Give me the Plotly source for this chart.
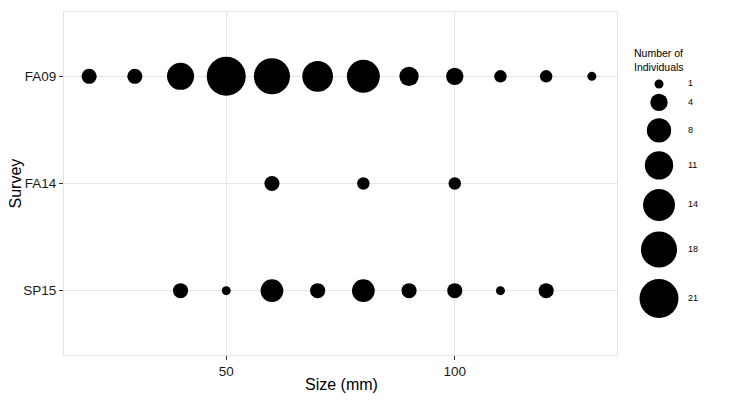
import numpy as np
import plotly.graph_objects as go

# ---- data ----
surveys = ["FA09", "FA14", "SP15"]
fa09_size = [20, 30, 40, 50, 60, 70, 80, 90, 100, 110, 120, 130]
fa09_count = [3, 3, 10, 21, 18, 13, 15, 5, 4, 2, 2, 1]
fa14_size = [60, 80, 100]
fa14_count = [3, 2, 2]
sp15_size = [40, 50, 60, 70, 80, 90, 100, 110, 120]
sp15_count = [3, 1, 7, 3, 7, 3, 3, 1, 3]
legend_breaks = [1, 4, 8, 11, 14, 18, 21]
x_ticks = [50, 100]


def diam(v):
    return 0.6 + 8.37 * np.sqrt(np.asarray(v, dtype=float))


fig = go.Figure()
for name, xs, cs in [("FA09", fa09_size, fa09_count),
                     ("FA14", fa14_size, fa14_count),
                     ("SP15", sp15_size, sp15_count)]:
    fig.add_trace(go.Scatter(
        x=xs, y=[name] * len(xs), mode="markers",
        marker=dict(size=diam(cs), color="black", opacity=1, line=dict(width=0)),
        showlegend=False, hoverinfo="x+y", xaxis="x", yaxis="y"))

# ---- layout geometry (page pixels; the page body has an 8px margin) ----
BODY = 8
PAGE_W, PAGE_H = 730, 400
W, H = PAGE_W - BODY, PAGE_H - BODY
px_l, px_r, px_t, px_b = 64, 617, 12, 355

# ---- custom size legend (pixel-coordinate overlay axes) ----
d = diam(legend_breaks)
h = 1.25 * d + 2
centers = [84.0]
for i in range(1, len(h)):
    centers.append(centers[-1] + (h[i - 1] + h[i]) / 2)

fig.add_trace(go.Scatter(
    x=[659] * len(legend_breaks), y=centers, mode="markers",
    marker=dict(size=d, color="black", opacity=1, line=dict(width=0)),
    showlegend=False, hoverinfo="skip", xaxis="x2", yaxis="y2"))
fig.add_trace(go.Scatter(
    x=[688] * len(legend_breaks), y=centers, mode="text",
    text=[str(b) for b in legend_breaks], textposition="middle right",
    textfont=dict(size=9, color="black", family="Liberation Sans, Arial"),
    showlegend=False, hoverinfo="skip", xaxis="x2", yaxis="y2"))

fig.add_annotation(x=632, y=45, xref="x2", yref="y2", text="Number of<br>Individuals",
                   showarrow=False, xanchor="left", yanchor="top", align="left",
                   font=dict(size=10.5, color="black", family="Liberation Sans, Arial"))

plot_w = PAGE_W - px_l
plot_h = px_b - px_t
main_frac = (px_r - px_l) / plot_w


def paper_x(px):
    return (px - px_l) / plot_w


def paper_y(py):
    return (px_b - py) / plot_h


fig.add_annotation(x=paper_x(341), y=paper_y(384), xref="paper", yref="paper",
                   text="Size (mm)", showarrow=False, xanchor="center", yanchor="middle",
                   font=dict(size=16, color="black", family="Liberation Sans, Arial"))
fig.add_annotation(x=paper_x(14.5), y=paper_y(184), xref="paper", yref="paper",
                   text="Survey", showarrow=False, textangle=-90, borderpad=0,
                   xanchor="center", yanchor="middle",
                   font=dict(size=16, color="black", family="Liberation Sans, Arial"))

grid = "#e5e5e5"
fig.update_layout(
    width=W, height=H,
    margin=dict(l=px_l - BODY, r=0, t=px_t - BODY, b=H - (px_b - BODY), autoexpand=False),
    paper_bgcolor="white", plot_bgcolor="white",
    font=dict(family="Liberation Sans, Arial", color="black"),
    xaxis=dict(domain=[0, main_frac], range=[14.5, 135.5], tickvals=x_ticks,
               showgrid=True, gridcolor=grid, gridwidth=1, zeroline=False,
               showline=True, linecolor=grid, mirror=True, automargin=False,
               ticks="outside", ticklen=4, tickcolor="#333333",
               tickfont=dict(size=13.5, color="#1a1a1a")),
    yaxis=dict(type="category", categoryorder="array", categoryarray=surveys[::-1],
               range=[-0.6, 2.6], showgrid=True, gridcolor=grid, gridwidth=1,
               zeroline=False, showline=True, linecolor=grid, mirror=True,
               automargin=False,
               ticks="outside", ticklen=4, tickcolor="#333333",
               tickfont=dict(size=13.5, color="#1a1a1a")),
    xaxis2=dict(domain=[main_frac, 1], range=[px_r, PAGE_W], visible=False, fixedrange=True),
    yaxis2=dict(domain=[0, 1], range=[px_b, px_t], visible=False, fixedrange=True,
                anchor="x2"),
)

fig.write_html("out.html")
